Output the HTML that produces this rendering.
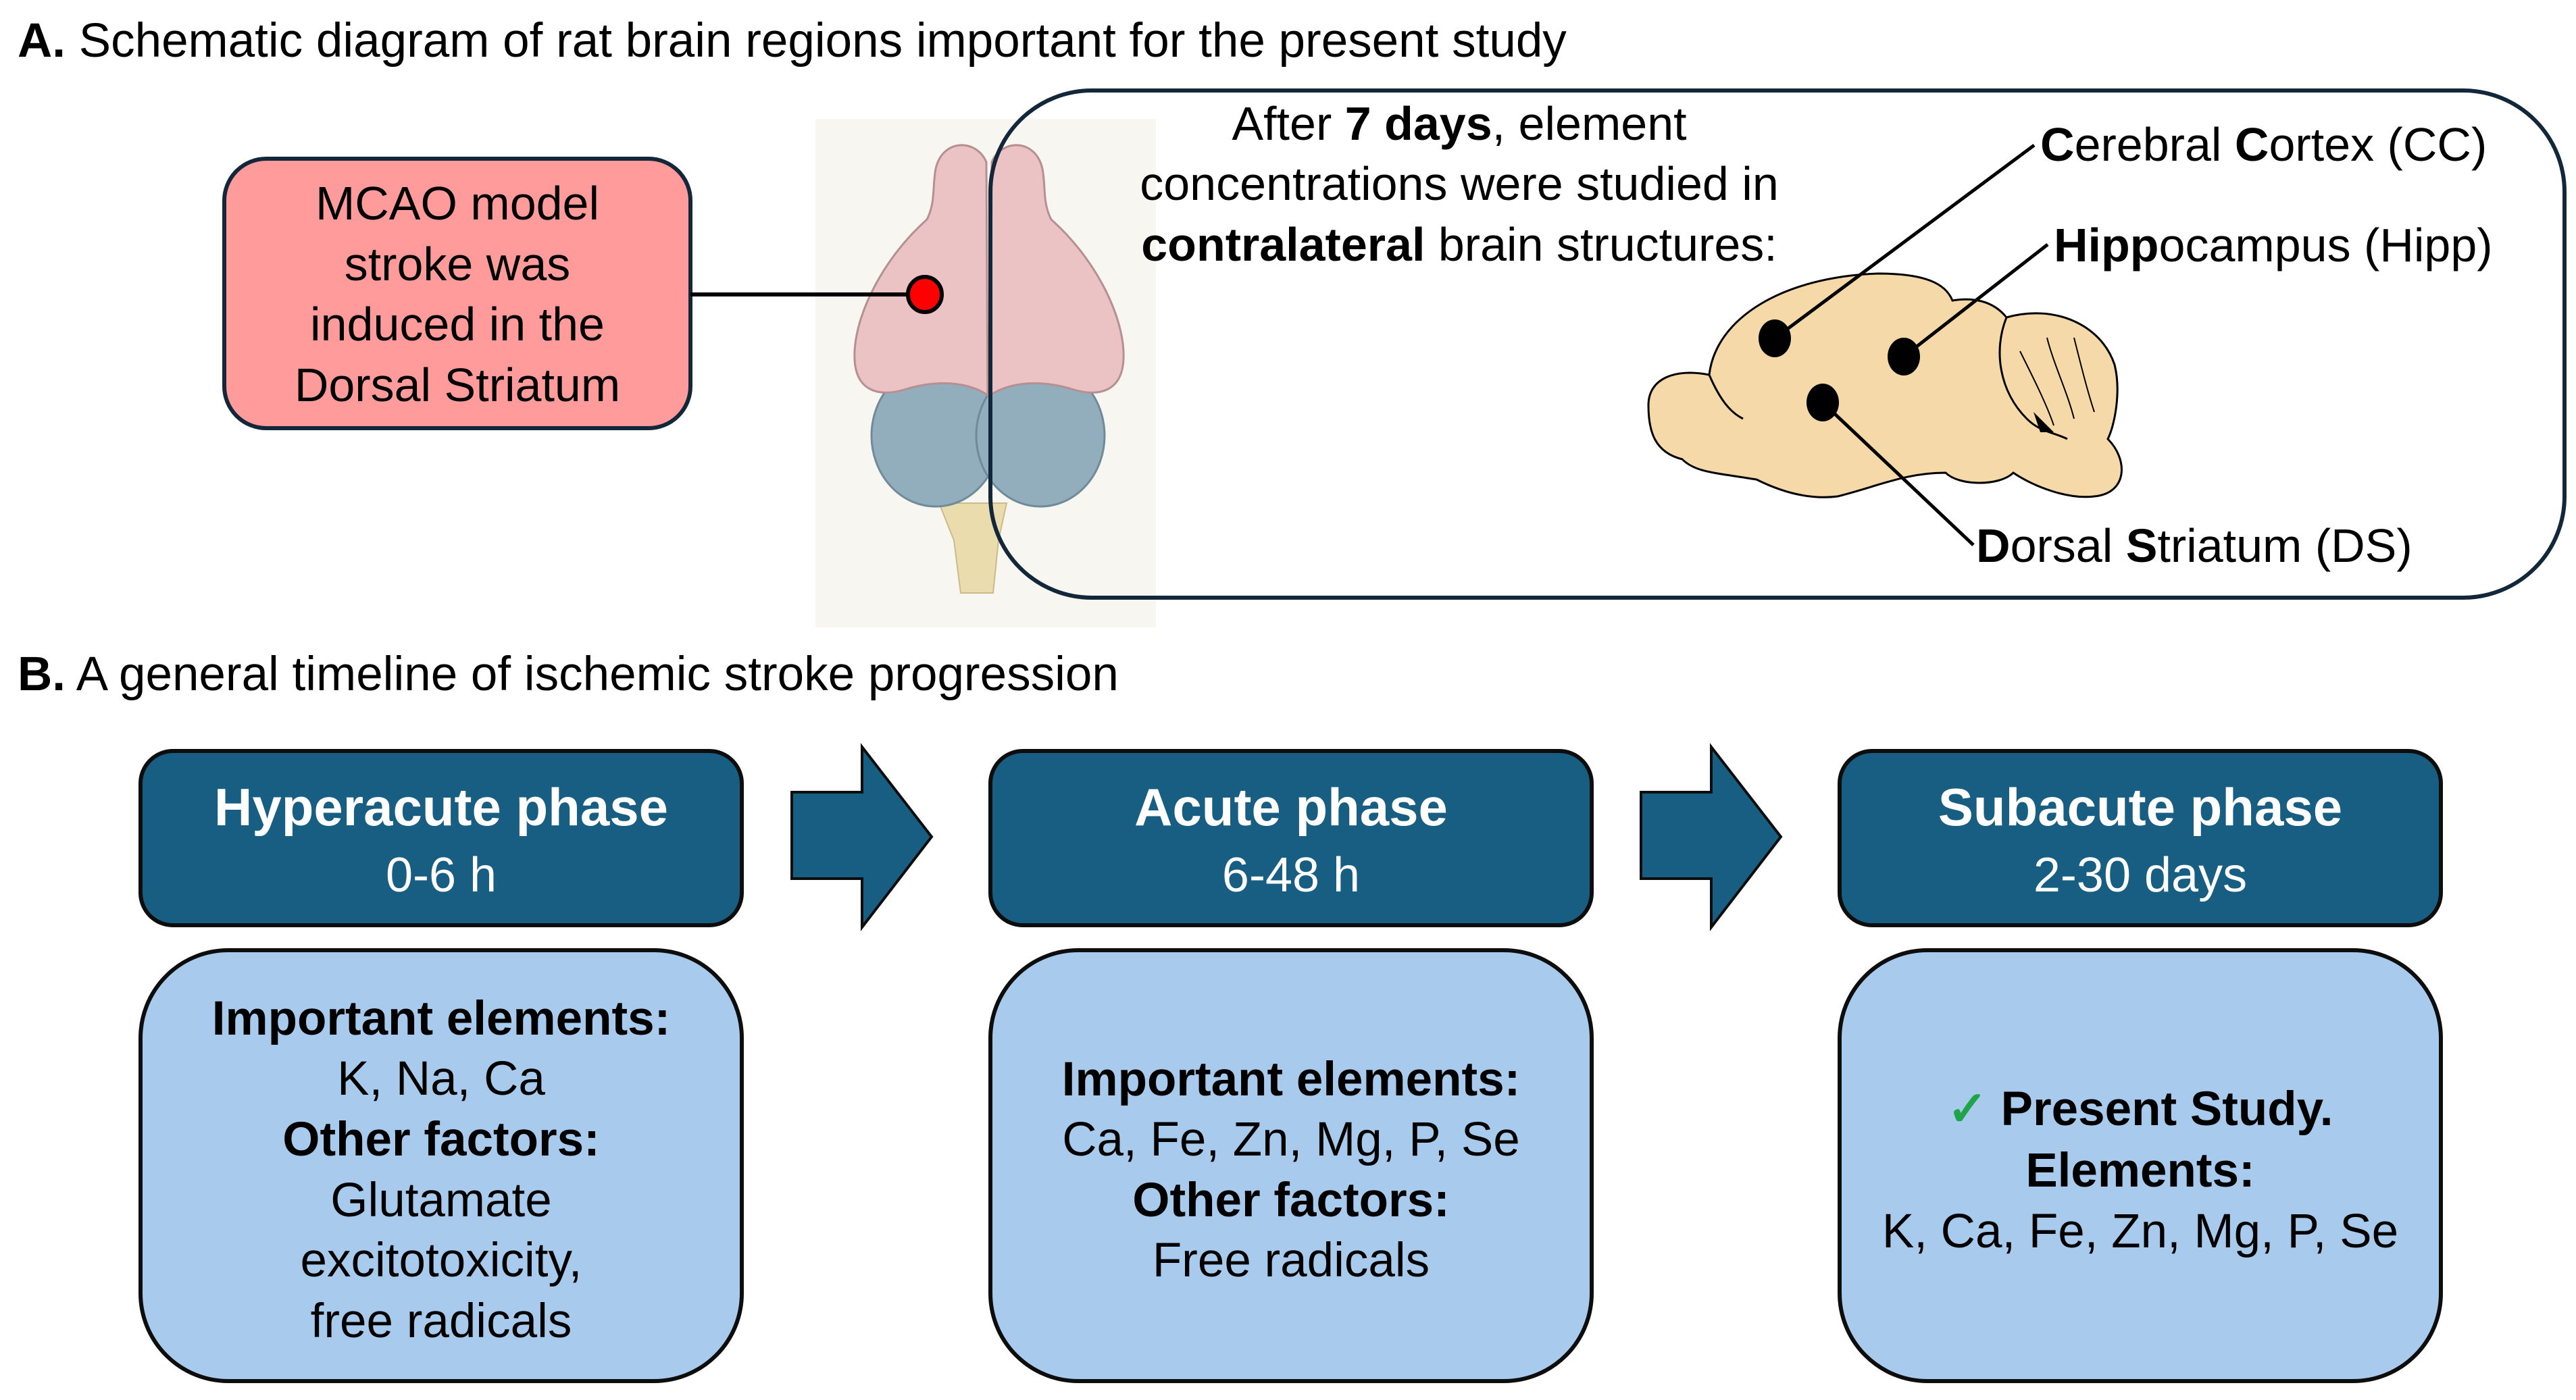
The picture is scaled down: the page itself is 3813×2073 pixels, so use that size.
<!DOCTYPE html>
<html><head><meta charset="utf-8"><style>
html,body{margin:0;padding:0;background:#fff;}
svg{display:block;}
text{font-family:"Liberation Sans",sans-serif;fill:#000;}
</style></head><body>
<svg width="3813" height="2073" viewBox="0 0 3813 2073" xmlns="http://www.w3.org/2000/svg">
<!-- Title A -->
<text x="26" y="84" font-size="71"><tspan font-weight="bold">A.</tspan> Schematic diagram of rat brain regions important for the present study</text>

<!-- Pink box -->
<rect x="332" y="235" width="690" height="399" rx="62" fill="#ff9b9b" stroke="#12273a" stroke-width="6"/>
<g font-size="70" text-anchor="middle">
<text x="677" y="325">MCAO model</text>
<text x="677" y="415">stroke was</text>
<text x="677" y="504">induced in the</text>
<text x="677" y="594">Dorsal Striatum</text>
</g>

<!-- brain top view image background -->
<rect x="1207" y="176" width="504" height="753" fill="#f8f6f1"/>
<!-- brainstem -->
<path d="M1390,745 L1490,745 L1478,800 L1470,878 L1422,878 L1412,800 Z" fill="#eadcad" stroke="#cbbb8a" stroke-width="2"/>
<!-- cerebellum -->
<ellipse cx="1385" cy="645" rx="95" ry="105" fill="#92aebd" stroke="#6f8a99" stroke-width="3"/>
<ellipse cx="1540" cy="645" rx="95" ry="105" fill="#92aebd" stroke="#6f8a99" stroke-width="3"/>
<!-- hemispheres -->
<path d="M1460,240 C1445,205 1395,205 1385,250 C1380,275 1385,300 1372,325 C1310,380 1268,460 1265,520 C1262,580 1300,590 1345,575 C1400,560 1440,570 1462,585 Z" fill="#ecc3c5" stroke="#b68f93" stroke-width="3"/>
<path d="M1468,240 C1483,205 1533,205 1543,250 C1548,275 1543,300 1556,325 C1618,380 1660,460 1663,520 C1666,580 1628,590 1583,575 C1528,560 1488,570 1466,585 Z" fill="#ecc3c5" stroke="#b68f93" stroke-width="3"/>

<!-- connector -->
<line x1="1022" y1="436" x2="1345" y2="436" stroke="#000" stroke-width="6"/>
<ellipse cx="1369" cy="436" rx="25" ry="26" fill="#f00" stroke="#000" stroke-width="6"/>

<!-- big rounded rect -->
<rect x="1466" y="134" width="2330" height="751" rx="150" fill="none" stroke="#12273a" stroke-width="6"/>

<g font-size="70" text-anchor="middle">
<text x="2160" y="207">After <tspan font-weight="bold">7 days</tspan>, element</text>
<text x="2160" y="296">concentrations were studied in</text>
<text x="2160" y="386"><tspan font-weight="bold">contralateral</tspan> brain structures:</text>
</g>

<!-- sagittal brain -->
<path d="M2440,600 C2440,560 2480,545 2530,555 C2540,470 2640,410 2780,405 C2850,405 2880,420 2890,445 C2920,440 2950,445 2970,470 C3040,450 3110,480 3130,540 C3140,580 3130,630 3120,650 C3150,680 3150,730 3100,735 C3060,740 3010,720 2980,700 C2960,720 2900,720 2880,700 C2820,700 2780,720 2720,735 C2680,740 2640,730 2600,710 C2540,700 2510,700 2490,680 C2450,670 2440,640 2440,600 Z" fill="#f5d9a8" stroke="#000" stroke-width="3"/>
<path d="M2530,555 C2545,590 2560,610 2580,620" fill="none" stroke="#000" stroke-width="3"/>
<path d="M2970,470 C2950,520 2960,580 3000,620 C3020,640 3040,640 3060,650" fill="none" stroke="#000" stroke-width="3"/>
<path d="M2990,520 C3010,560 3030,600 3040,630 M3030,500 C3040,540 3060,580 3070,620 M3070,500 C3080,540 3090,580 3100,610" fill="none" stroke="#000" stroke-width="2"/>
<path d="M3010,610 L3040,640 L3020,640 Z" fill="#000"/>

<g stroke="#000" stroke-width="5">
<line x1="2627" y1="501" x2="3011" y2="215"/>
<line x1="2818" y1="528" x2="3031" y2="362"/>
<line x1="2698" y1="596" x2="2921" y2="807"/>
</g>
<ellipse cx="2627" cy="501" rx="24" ry="28" fill="#000"/>
<ellipse cx="2818" cy="528" rx="24" ry="28" fill="#000"/>
<ellipse cx="2698" cy="596" rx="24" ry="28" fill="#000"/>

<g font-size="70">
<text x="3020" y="238"><tspan font-weight="bold">C</tspan>erebral <tspan font-weight="bold">C</tspan>ortex (CC)</text>
<text x="3040" y="387"><tspan font-weight="bold">Hipp</tspan>ocampus (Hipp)</text>
<text x="2925" y="832"><tspan font-weight="bold">D</tspan>orsal <tspan font-weight="bold">S</tspan>triatum (DS)</text>
</g>

<!-- Title B -->
<text x="26" y="1022" font-size="71"><tspan font-weight="bold">B.</tspan> A general timeline of ischemic stroke progression</text>

<!-- dark boxes -->
<g fill="#175e82" stroke="#0d0d0d" stroke-width="6">
<rect x="208" y="1112" width="890" height="258" rx="48"/>
<rect x="1466" y="1112" width="890" height="258" rx="48"/>
<rect x="2723" y="1112" width="890" height="258" rx="48"/>
</g>
<g fill="#175e82" stroke="#0d0d0d" stroke-width="4">
<path d="M1172,1173 L1276,1173 L1276,1106 L1379,1239 L1276,1373 L1276,1301 L1172,1301 Z"/>
<path d="M2429,1173 L2533,1173 L2533,1106 L2636,1239 L2533,1373 L2533,1301 L2429,1301 Z"/>
</g>
<g text-anchor="middle">
<text x="653" y="1222" font-size="78" font-weight="bold" style="fill:#fff">Hyperacute phase</text>
<text x="653" y="1320" font-size="72" style="fill:#fff">0-6 h</text>
<text x="1911" y="1222" font-size="78" font-weight="bold" style="fill:#fff">Acute phase</text>
<text x="1911" y="1320" font-size="72" style="fill:#fff">6-48 h</text>
<text x="3168" y="1222" font-size="78" font-weight="bold" style="fill:#fff">Subacute phase</text>
<text x="3168" y="1320" font-size="72" style="fill:#fff">2-30 days</text>
</g>

<!-- light boxes -->
<g fill="#a8caed" stroke="#0d0d0d" stroke-width="6">
<rect x="208" y="1407" width="890" height="638" rx="130"/>
<rect x="1466" y="1407" width="890" height="638" rx="130"/>
<rect x="2723" y="1407" width="890" height="638" rx="130"/>
</g>
<g font-size="71" text-anchor="middle">
<text x="653" y="1532" font-weight="bold">Important elements:</text>
<text x="653" y="1621">K, Na, Ca</text>
<text x="653" y="1711" font-weight="bold">Other factors:</text>
<text x="653" y="1801">Glutamate</text>
<text x="653" y="1890">excitotoxicity,</text>
<text x="653" y="1980">free radicals</text>

<text x="1911" y="1622" font-weight="bold">Important elements:</text>
<text x="1911" y="1711">Ca, Fe, Zn, Mg, P, Se</text>
<text x="1911" y="1801" font-weight="bold">Other factors:</text>
<text x="1911" y="1890">Free radicals</text>

<text x="3168" y="1666" font-weight="bold"><tspan style="fill:#1fa44a">✓</tspan> Present Study.</text>
<text x="3168" y="1757" font-weight="bold">Elements:</text>
<text x="3168" y="1847">K, Ca, Fe, Zn, Mg, P, Se</text>
</g>
</svg>
</body></html>
